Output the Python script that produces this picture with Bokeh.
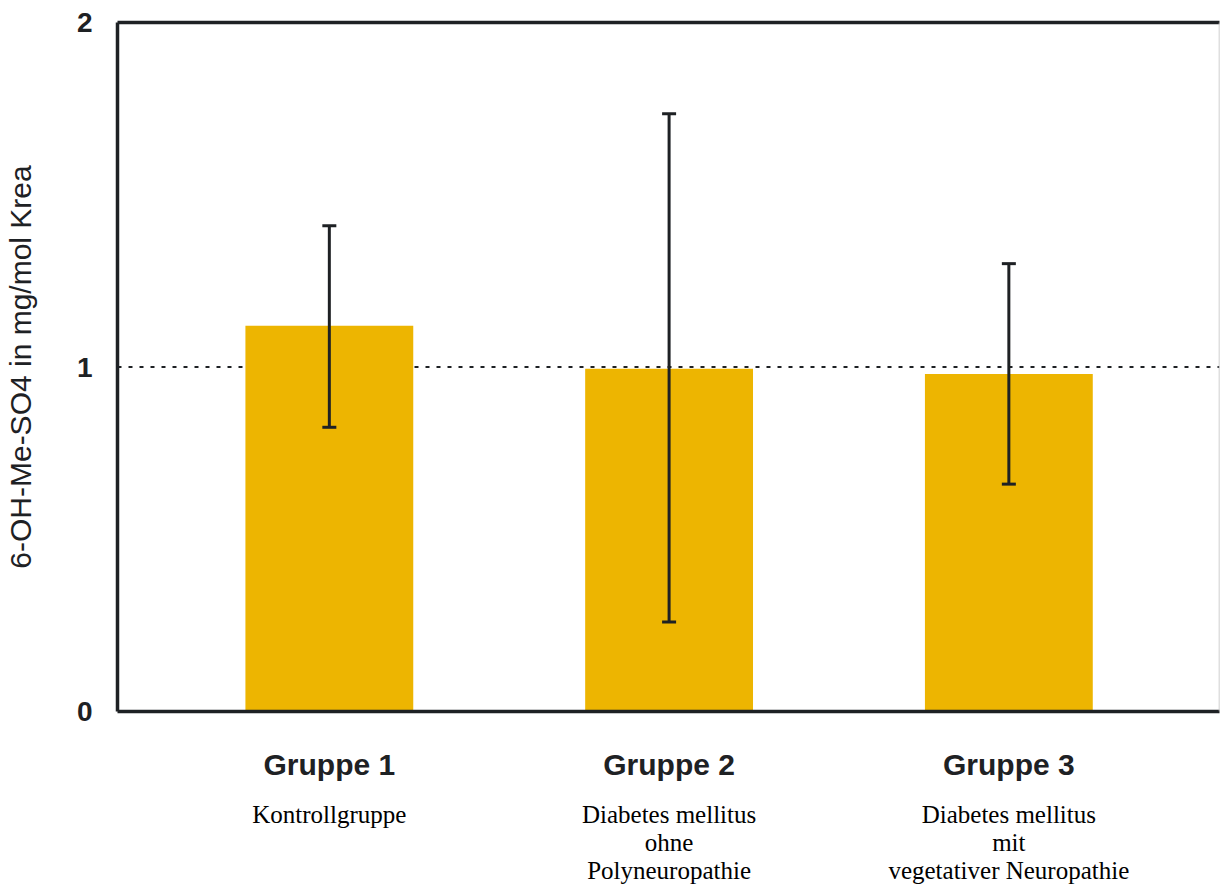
from bokeh.plotting import figure
from bokeh.models import (ColumnDataSource, Range1d, LinearAxis, FixedTicker,
                          Span, Whisker, TeeHead)
from bokeh.embed import file_html
from bokeh.resources import INLINE

# ---- data ----
groups = ["Gruppe 1", "Gruppe 2", "Gruppe 3"]
subtitles = ["Kontrollgruppe",
             "Diabetes mellitus\nohne\nPolyneuropathie",
             "Diabetes mellitus\nmit\nvegetativer Neuropathie"]
means = [1.12, 0.995, 0.98]
upper = [1.41, 1.735, 1.30]
lower = [0.825, 0.26, 0.66]
y_ticks = [0, 1, 2]

DARK = "#1e2124"
BAR = "#edb501"

xs = list(range(len(groups)))
src = ColumnDataSource(data=dict(x=xs, top=means, upper=upper, lower=lower))

p = figure(width=1220, height=886, output_backend="svg", toolbar_location=None,
           x_range=Range1d(-0.6235, 2.62), y_range=Range1d(0, 2),
           x_axis_type=None, y_axis_type=None,
           min_border_left=117, min_border_top=22, min_border_right=1,
           min_border_bottom=175)
p.outline_line_color = None
p.xgrid.visible = False
p.ygrid.visible = False
p.background_fill_color = "white"
p.border_fill_color = "white"

# reference dotted line at 1 (behind bars)
p.add_layout(Span(location=1, dimension="width", line_color=DARK, line_width=2,
                  line_dash="4 7", level="underlay"))

p.vbar(x="x", top="top", width=0.494, source=src, fill_color=BAR, line_color=None)

p.add_layout(Whisker(base="x", upper="upper", lower="lower", source=src,
                     line_color=DARK, line_width=3, level="annotation",
                     upper_head=TeeHead(size=14, line_color=DARK, line_width=3),
                     lower_head=TeeHead(size=14, line_color=DARK, line_width=3)))

# right edge
p.add_layout(Span(location=2.62, dimension="height", line_color="#c0c0c0", line_width=1.5))

# top frame line as an empty axis
top_ax = LinearAxis(ticker=FixedTicker(ticks=[]),
                    major_tick_line_color=None, minor_tick_line_color=None,
                    major_label_text_font_size="0px",
                    axis_line_color=DARK, axis_line_width=3.5)
p.add_layout(top_ax, "above")

# y axis
yax = LinearAxis(ticker=FixedTicker(ticks=y_ticks),
                 axis_label="6-OH-Me-SO4 in mg/mol Krea",
                 axis_label_text_font="Liberation Sans",
                 axis_label_text_font_size="30px",
                 axis_label_text_font_style="normal",
                 axis_label_text_color=DARK,
                 axis_label_standoff=37,
                 major_label_text_font="Liberation Sans",
                 major_label_text_font_size="28px",
                 major_label_text_font_style="bold",
                 major_label_text_color=DARK,
                 major_label_standoff=19,
                 major_tick_line_color=None, minor_tick_line_color=None,
                 axis_line_color=DARK, axis_line_width=3.5)
p.add_layout(yax, "left")

# x axis: group names
xax = LinearAxis(ticker=FixedTicker(ticks=xs),
                 major_label_overrides={i: g for i, g in zip(xs, groups)},
                 major_label_text_font="Liberation Sans",
                 major_label_text_font_size="30px",
                 major_label_text_font_style="bold",
                 major_label_text_color=DARK,
                 major_label_standoff=30,
                 major_tick_line_color=None, minor_tick_line_color=None,
                 axis_line_color=DARK, axis_line_width=3.5)
p.add_layout(xax, "below")

# x axis: subtitles
xax2 = LinearAxis(ticker=FixedTicker(ticks=xs),
                  major_label_overrides={i: s for i, s in zip(xs, subtitles)},
                  major_label_text_font="Liberation Serif",
                  major_label_text_font_size="25px",
                  major_label_text_color="black",
                  major_label_text_line_height=1.04,
                  major_label_standoff=11,
                  major_tick_line_color=None, minor_tick_line_color=None,
                  axis_line_color=None)
p.add_layout(xax2, "below")

open("out.html", "w").write(file_html(p, INLINE))
